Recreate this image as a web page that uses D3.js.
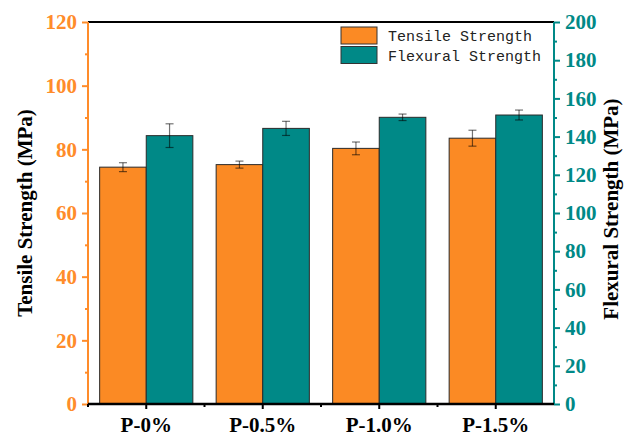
<!DOCTYPE html>
<html>
<head>
<meta charset="utf-8">
<script src="https://cdn.jsdelivr.net/npm/d3@7"></script>
<style>
  body { margin: 0; background: #fff; }
  svg { display: block; }
</style>
</head>
<body>
<svg id="chart" width="632" height="437"></svg>
<script>
// Data
var categories = ['P-0%', 'P-0.5%', 'P-1.0%', 'P-1.5%'];
var tensile = [74.4, 75.2, 80.3, 83.5];
var tensileErr = [1.4, 1.1, 2.0, 2.5];
var flexural = [140.5, 144.3, 150.1, 151.3];
var flexuralErr = [6.2, 3.7, 1.7, 2.6];
var seriesNames = ['Tensile Strength', 'Flexural Strength'];
var leftTicks = [0, 20, 40, 60, 80, 100, 120];
var rightTicks = [0, 20, 40, 60, 80, 100, 120, 140, 160, 180, 200];

var orange = '#fb8a24';
var axisOrange = '#ff8c2a';
var teal = '#008987';
var serif = '"Liberation Serif", "Times New Roman", serif';

var svg = d3.select('#chart');
var margin = {top: 22, right: 78, bottom: 33, left: 88};
var width = +svg.attr('width') - margin.left - margin.right;
var height = +svg.attr('height') - margin.top - margin.bottom;
var g = svg.append('g')
    .attr('transform', 'translate(' + margin.left + ',' + margin.top + ')');

// Scales
var x = d3.scaleBand().domain(categories).range([0, width])
    .paddingInner(0.2).paddingOuter(0.1);
var x1 = d3.scaleBand().domain([0, 1]).range([0, x.bandwidth()]);
var yL = d3.scaleLinear().domain([0, 120]).range([height, 0]);
var yR = d3.scaleLinear().domain([0, 200]).range([height, 0]);

// Bars
var groups = g.selectAll('.grp')
    .data(categories)
    .enter().append('g')
    .attr('class', 'grp')
    .attr('transform', function(d) { return 'translate(' + x(d) + ',0)'; });

groups.append('rect')
    .attr('x', x1(0))
    .attr('y', function(d, i) { return yL(tensile[i]); })
    .attr('width', x1.bandwidth())
    .attr('height', function(d, i) { return height - yL(tensile[i]); })
    .style('fill', orange)
    .style('stroke', '#2a2a2a')
    .style('stroke-width', 1);

groups.append('rect')
    .attr('x', x1(1))
    .attr('y', function(d, i) { return yR(flexural[i]); })
    .attr('width', x1.bandwidth())
    .attr('height', function(d, i) { return height - yR(flexural[i]); })
    .style('fill', teal)
    .style('stroke', '#2a2a2a')
    .style('stroke-width', 1);

// Error bars
function add_errors(sel, vals, errs, scale, slot) {
    var cx = x1(slot) + x1.bandwidth() / 2;
    var eb = sel.append('g')
        .style('stroke', '#000')
        .style('stroke-opacity', 0.55)
        .style('stroke-width', 1.2);
    eb.append('line')
        .attr('x1', cx).attr('x2', cx)
        .attr('y1', function(d, i) { return scale(vals[i] + errs[i]); })
        .attr('y2', function(d, i) { return scale(vals[i] - errs[i]); });
    eb.append('line')
        .attr('x1', cx - 4).attr('x2', cx + 4)
        .attr('y1', function(d, i) { return scale(vals[i] + errs[i]); })
        .attr('y2', function(d, i) { return scale(vals[i] + errs[i]); });
    eb.append('line')
        .attr('x1', cx - 4).attr('x2', cx + 4)
        .attr('y1', function(d, i) { return scale(vals[i] - errs[i]); })
        .attr('y2', function(d, i) { return scale(vals[i] - errs[i]); });
}
add_errors(groups, tensile, tensileErr, yL, 0);
add_errors(groups, flexural, flexuralErr, yR, 1);

// Top frame line
g.append('line')
    .attr('x1', 0).attr('x2', width)
    .attr('y1', 0).attr('y2', 0)
    .style('stroke', '#000')
    .style('stroke-width', 2);

function style_labels(axisG, color, size) {
    axisG.attr('font-family', serif).attr('font-size', size).attr('font-weight', 'bold');
    axisG.selectAll('.tick text')
        .attr('fill', color)
        .style('font-family', serif)
        .style('font-weight', 'bold')
        .style('font-size', size + 'px');
}

// Left axis
var left = g.append('g')
    .call(d3.axisLeft(yL).tickValues(leftTicks).tickSize(6).tickPadding(5));
left.select('.domain').remove();
left.selectAll('.tick line').style('stroke', axisOrange).style('stroke-width', 2);
style_labels(left, axisOrange, 21);
var leftMinor = g.append('g')
    .call(d3.axisLeft(yL).tickValues(d3.range(10, 120, 20)).tickSize(3).tickFormat(''));
leftMinor.select('.domain').remove();
leftMinor.selectAll('.tick line').style('stroke', axisOrange).style('stroke-width', 2);
g.append('line')
    .attr('x1', 0).attr('x2', 0).attr('y1', 0).attr('y2', height + 2)
    .style('stroke', axisOrange).style('stroke-width', 2);

// Right axis
var right = g.append('g')
    .attr('transform', 'translate(' + width + ',0)')
    .call(d3.axisRight(yR).tickValues(rightTicks).tickSize(6).tickPadding(5));
right.select('.domain').remove();
right.selectAll('.tick line').style('stroke', teal).style('stroke-width', 2);
style_labels(right, teal, 21);
var rightMinor = g.append('g')
    .attr('transform', 'translate(' + width + ',0)')
    .call(d3.axisRight(yR).tickValues(d3.range(10, 200, 20)).tickSize(3).tickFormat(''));
rightMinor.select('.domain').remove();
rightMinor.selectAll('.tick line').style('stroke', teal).style('stroke-width', 2);
g.append('line')
    .attr('x1', width).attr('x2', width).attr('y1', 0).attr('y2', height + 1)
    .style('stroke', teal).style('stroke-width', 2);

// Bottom axis
var bottom = g.append('g')
    .attr('transform', 'translate(0,' + height + ')')
    .call(d3.axisBottom(x).tickSize(5).tickPadding(8));
bottom.select('.domain').remove();
bottom.selectAll('.tick line').style('stroke', '#000').style('stroke-width', 2);
style_labels(bottom, '#000', 21);
// minor ticks at group boundaries
var bounds = categories.map(function(d) { return x(d) - x.step() * x.paddingInner() / 2; });
g.selectAll('.minor-x')
    .data(bounds)
    .enter().append('line')
    .attr('x1', function(d) { return d; }).attr('x2', function(d) { return d; })
    .attr('y1', height).attr('y2', height + 3)
    .style('stroke', '#000').style('stroke-width', 2);
g.append('line')
    .attr('x1', 0).attr('x2', width).attr('y1', height).attr('y2', height)
    .style('stroke', '#000').style('stroke-width', 2.5);

// Axis titles
svg.append('text')
    .attr('transform', 'translate(32,' + (margin.top + height / 2) + ') rotate(-90)')
    .attr('text-anchor', 'middle')
    .style('font-family', serif)
    .style('font-weight', 'bold')
    .style('font-size', '21px')
    .style('fill', '#000')
    .text('Tensile Strength (MPa)');
svg.append('text')
    .attr('transform', 'translate(618,' + (margin.top + height / 2 - 4) + ') rotate(-90)')
    .attr('text-anchor', 'middle')
    .style('font-family', serif)
    .style('font-weight', 'bold')
    .style('font-size', '21px')
    .style('fill', '#000')
    .text('Flexural Strength (MPa)');

// Legend
var legend = svg.append('g').attr('transform', 'translate(341,27)');
var legColors = [orange, teal];
seriesNames.forEach(function(name, i) {
    legend.append('rect')
        .attr('x', 0).attr('y', i * 19.5)
        .attr('width', 36).attr('height', 17)
        .style('fill', legColors[i])
        .style('stroke', '#333')
        .style('stroke-width', 1);
    legend.append('text')
        .attr('x', 47).attr('y', i * 19.5 + 14)
        .style('font-family', '"Liberation Mono", monospace')
        .style('font-size', '15px')
        .style('fill', '#222')
        .text(name);
});
</script>
</body>
</html>
